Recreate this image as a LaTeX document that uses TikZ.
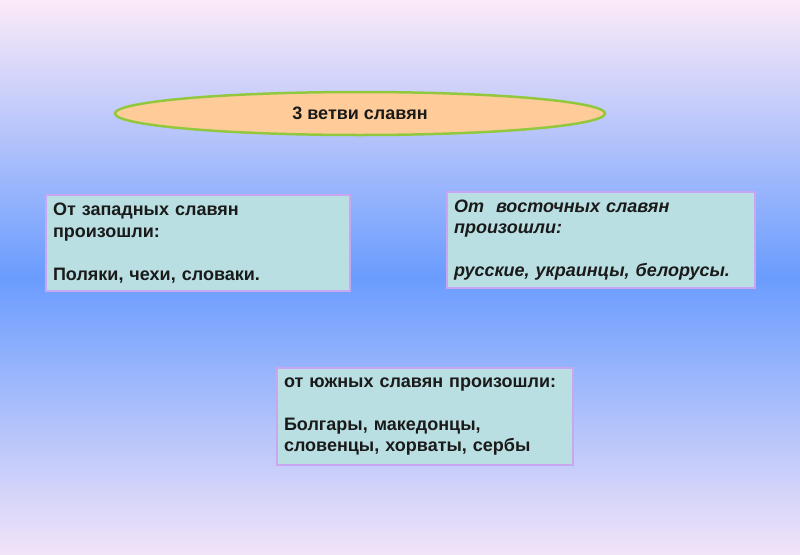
\documentclass[tikz,border=0pt]{standalone}
\usepackage{fontspec}
\setmainfont{Liberation Sans}
\usetikzlibrary{shapes.geometric}
\usepackage{xcolor}

\definecolor{bgtop}{HTML}{FCEAF8}
\definecolor{bgmid}{HTML}{6A9CFE}
\definecolor{bgbot}{HTML}{F2E4F8}
\definecolor{peach}{HTML}{FFCC99}
\definecolor{leafgreen}{HTML}{92C83E}
\definecolor{boxfill}{HTML}{BADFE2}
\definecolor{lilac}{HTML}{C9A6F2}
\definecolor{ink}{HTML}{1A1A1A}

\tikzset{
    branch/.style={ellipse, draw=leafgreen, line width=2.5pt, fill=peach, inner sep=0pt,
        text=ink, font=\fontsize{18}{20}\selectfont\bfseries},
    slavbox/.style={rectangle, draw=lilac, line width=2pt, fill=boxfill, inner xsep=7pt,
        align=left, text=ink, font=\fontsize{18}{21.5}\selectfont\bfseries}
}

\begin{document}
\begin{tikzpicture}[x=1pt, y=-1pt]
    % background
    \shade[top color=bgtop, bottom color=bgbot, middle color=bgmid] (0,0) rectangle (800,554);
    \useasboundingbox (0,0) rectangle (800,554);

    % title
    \node[branch, minimum width=490pt, minimum height=43pt] (title) at (360,113.5) {3 ветви славян};

    % west
    \node[slavbox, text width=290pt, minimum height=96pt] (west) at (198,243)
        {От западных славян\\произошли:\\ \strut\\Поляки, чехи, словаки.};

    % east
    \node[slavbox, text width=294pt, minimum height=96pt, font=\fontsize{18}{21.5}\selectfont\bfseries\itshape] (east) at (601,240)
        {От\ \ восточных славян\\произошли:\\ \strut\\русские, украинцы, белорусы.};

    % south
    \node[slavbox, text width=282pt, minimum height=97pt] (south) at (425,416.5)
        {от южных славян произошли:\\ \strut\\Болгары, македонцы,\\словенцы, хорваты, сербы};
\end{tikzpicture}
\end{document}
